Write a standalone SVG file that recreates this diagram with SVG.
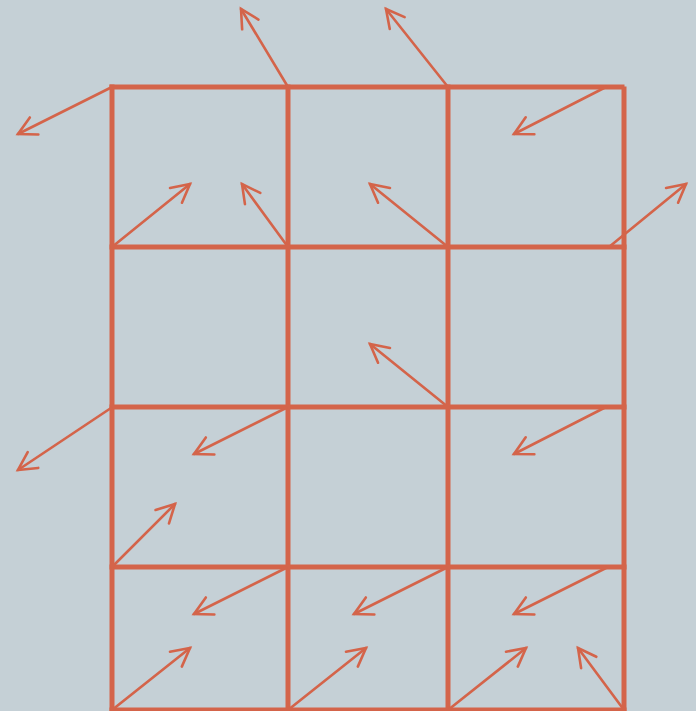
<svg xmlns="http://www.w3.org/2000/svg" width="696" height="711" viewBox="0 0 696 711">
<style>
.grid{stroke:#d4644a;stroke-width:5;fill:none;stroke-linecap:square}
.vec{stroke:#d4644a;stroke-width:2.6;fill:none;stroke-linecap:round;marker-end:url(#ah)}
</style>
<defs>
<marker id="ah" markerUnits="userSpaceOnUse" orient="auto" refX="0" refY="0" markerWidth="30" markerHeight="30" overflow="visible">
<path d="M-18,-9.5 L0,0 L-18,9.5" fill="none" stroke="#d4644a" stroke-width="2.6" stroke-linecap="round" stroke-linejoin="miter"/>
</marker>
</defs>
<rect width="696" height="711" fill="#c5d0d6"/>
<g id="grid">
<line class="grid" x1="112" y1="87" x2="622" y2="87"/>
<line class="grid" x1="112" y1="247" x2="624" y2="247"/>
<line class="grid" x1="112" y1="407" x2="624" y2="407"/>
<line class="grid" x1="112" y1="567" x2="624" y2="567"/>
<line class="grid" x1="112" y1="710" x2="624" y2="710"/>
<line class="grid" x1="112" y1="87" x2="112" y2="711"/>
<line class="grid" x1="288" y1="87" x2="288" y2="711"/>
<line class="grid" x1="448" y1="87" x2="448" y2="711"/>
<line class="grid" x1="624" y1="89" x2="624" y2="711"/>
</g>
<g id="connectors">
<line class="vec" x1="112" y1="87" x2="18" y2="134"/>
<line class="vec" x1="288" y1="87" x2="241" y2="9"/>
<line class="vec" x1="448" y1="87" x2="386" y2="9"/>
<line class="vec" x1="606" y1="87" x2="514" y2="134"/>
<line class="vec" x1="112" y1="247" x2="190" y2="184"/>
<line class="vec" x1="288" y1="247" x2="242" y2="184"/>
<line class="vec" x1="448" y1="247" x2="370" y2="184"/>
<line class="vec" x1="609" y1="247" x2="686" y2="184"/>
<line class="vec" x1="448" y1="407" x2="370" y2="344"/>
<line class="vec" x1="111" y1="408" x2="18" y2="470"/>
<line class="vec" x1="286" y1="408" x2="194" y2="454"/>
<line class="vec" x1="606" y1="407" x2="514" y2="454"/>
<line class="vec" x1="112" y1="567" x2="175" y2="504"/>
<line class="vec" x1="286" y1="568" x2="194" y2="614"/>
<line class="vec" x1="446" y1="568" x2="354" y2="614"/>
<line class="vec" x1="606" y1="568" x2="514" y2="614"/>
<line class="vec" x1="112" y1="710" x2="190" y2="648"/>
<line class="vec" x1="288" y1="710" x2="366" y2="648"/>
<line class="vec" x1="448" y1="710" x2="526" y2="648"/>
<line class="vec" x1="624" y1="710" x2="578" y2="648"/>
</g>
</svg>
